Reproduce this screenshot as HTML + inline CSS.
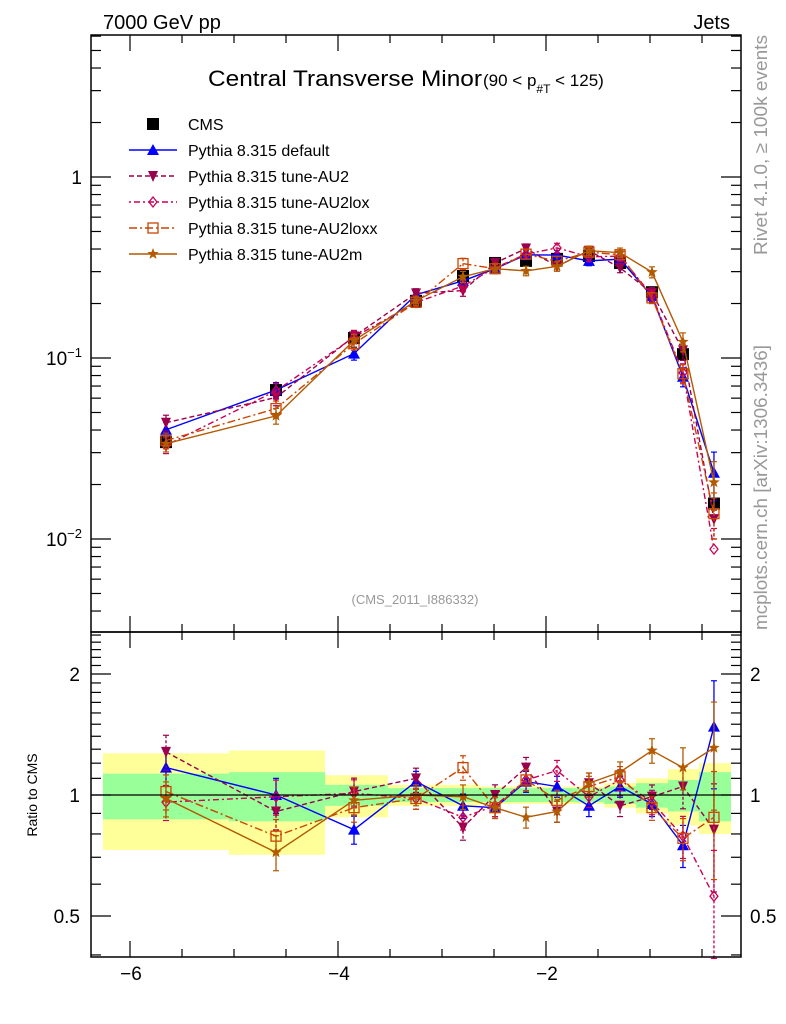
<!DOCTYPE html>
<html><head><meta charset="utf-8"><style>
html,body{margin:0;padding:0;background:#fff}
svg{display:block;font-family:"Liberation Sans",sans-serif}
</style></head><body>
<svg id="chart" width="786" height="1024" viewBox="0 0 786 1024" xmlns="http://www.w3.org/2000/svg">
<rect x="0" y="0" width="786" height="1024" fill="#fff"/>
<g id="bands"></g>
<g id="ticks"></g>
<g id="series"></g>
<line x1="91" y1="795" x2="741" y2="795" stroke="#000" stroke-width="1.2"/>
<rect x="91" y="35" width="650" height="597" fill="none" stroke="#000" stroke-width="1.5"/>
<rect x="91" y="632" width="650" height="325" fill="none" stroke="#000" stroke-width="1.5"/>
<text x="103" y="29" font-size="20">7000 GeV pp</text>
<text x="730" y="29" font-size="20" text-anchor="end">Jets</text>
<text x="208" y="86" font-size="22" textLength="274" lengthAdjust="spacingAndGlyphs">Central Transverse Minor</text>
<text x="483" y="86" font-size="17">(90 &lt; p<tspan font-size="12" dy="7">#T</tspan><tspan dy="-7">  &lt; 125)</tspan></text>
<text x="415" y="604" font-size="13" fill="#999" text-anchor="middle">(CMS_2011_I886332)</text>
<text transform="translate(767,255) rotate(-90)" font-size="18.5" fill="#999" textLength="220" lengthAdjust="spacingAndGlyphs">Rivet 4.1.0, ≥ 100k events</text>
<text transform="translate(767,630) rotate(-90)" font-size="18.5" fill="#999" textLength="285" lengthAdjust="spacingAndGlyphs">mcplots.cern.ch [arXiv:1306.3436]</text>
<text transform="translate(37,795) rotate(-90)" font-size="14" text-anchor="middle">Ratio to CMS</text>
<g id="ylabels" font-size="19">
<text x="82" y="184" text-anchor="end">1</text>
<text x="82" y="365" text-anchor="end">10<tspan font-size="13" dy="-8">−1</tspan></text>
<text x="82" y="546" text-anchor="end">10<tspan font-size="13" dy="-8">−2</tspan></text>
<text x="80" y="681" text-anchor="end">2</text>
<text x="80" y="802" text-anchor="end">1</text>
<text x="80" y="923" text-anchor="end">0.5</text>
<text x="750" y="681">2</text>
<text x="750" y="802">1</text>
<text x="750" y="923">0.5</text>
</g>
<g id="xlabels" font-size="19" text-anchor="middle"></g>
<g id="legend" font-size="16"></g>
</svg>
<script>
const xCenters = [-5.654,-4.596,-3.846,-3.25,-2.798,-2.49,-2.192,-1.894,-1.587,-1.288,-0.981,-0.683,-0.385];
const binEdges = [-6.26,-5.05,-4.125,-3.52,-2.97,-2.635,-2.337,-2.038,-1.74,-1.44,-1.135,-0.827,-0.529,-0.221];
const cmsValues = [0.0343,0.0665,0.129,0.207,0.284,0.335,0.344,0.353,0.366,0.335,0.231,0.105,0.0157];
const cmsStatErr = [0.13,0.14,0.06,0.04,0.04,0.04,0.04,0.04,0.04,0.05,0.07,0.09,0.14];
const cmsTotErr = [0.27,0.29,0.12,0.06,0.06,0.05,0.05,0.05,0.05,0.07,0.1,0.16,0.2];
const ratioDefault = [1.17,1.0,0.82,1.08,0.94,0.93,1.08,1.05,0.94,1.05,0.95,0.75,1.48];
const ratioAU2 = [1.28,0.91,1.02,1.10,0.83,1.0,1.17,0.91,1.07,0.94,0.99,1.05,0.82];
const ratioAU2lox = [0.96,0.99,1.01,0.98,0.88,0.94,1.09,1.15,0.99,1.09,0.96,0.79,0.56];
const ratioAU2loxx = [1.02,0.79,0.93,0.98,1.17,0.93,1.09,0.97,1.05,1.11,0.93,0.78,0.88];
const ratioAU2m = [0.98,0.72,0.97,1.0,0.99,0.93,0.88,0.91,1.07,1.14,1.29,1.17,1.31];
const mcRelErr = [0.1,0.1,0.08,0.06,0.07,0.06,0.06,0.06,0.06,0.06,0.07,0.12,0.3];
const xTicks = [-6,-4,-2];

const NS="http://www.w3.org/2000/svg";
const X = v => 546 + (v + 2) * 104;
const Y = v => 177 - Math.log10(v) * 181;
const R = v => 795 - Math.log2(v) * 121;
function mk(tag, attrs, parent){const e=document.createElementNS(NS,tag);for(const k in attrs)e.setAttribute(k,attrs[k]);parent.appendChild(e);return e;}

const bands=document.getElementById('bands');
for(let i=0;i<cmsValues.length;i++){
  const x0=X(binEdges[i]), x1=X(binEdges[i+1]);
  const y=mk('rect',{x:x0,y:R(1+cmsTotErr[i]),width:x1-x0,height:R(Math.max(0.3,1-cmsTotErr[i]))-R(1+cmsTotErr[i]),fill:'#ffff99'},bands);
  
  
  const g=mk('rect',{x:x0,y:R(1+cmsStatErr[i]),width:x1-x0,height:R(1-cmsStatErr[i])-R(1+cmsStatErr[i]),fill:'#99ff99'},bands);
  
  
}

const ticks=document.getElementById('ticks');
function tk(x1,y1,x2,y2){mk('line',{x1,y1,x2,y2,stroke:'#000','stroke-width':1.2},ticks);}
for(let d=-3;d<=0;d++){for(let m=1;m<=9;m++){const v=m*Math.pow(10,d);const y=Y(v);if(y<36||y>631)continue;const L=m===1?20:10;tk(91,y,91+L,y);tk(741,y,741-L,y);}}
for(let v=0.4;v<=2.55;v+=0.1){const y=R(v);if(y<633||y>956)continue;const maj=[0.5,1,2].some(a=>Math.abs(a-v)<1e-6);const L=maj?20:10;tk(91,y,91+L,y);tk(741,y,741-L,y);}
for(let v=-6.5;v<=-0.1;v+=0.5){const x=X(v);if(x<92||x>740)continue;const maj=Math.abs(v-Math.round(v))<1e-6&&Math.round(v)%2===0;const L=maj?16:8;tk(x,957,x,957-L);tk(x,632,x,632-L);tk(x,35,x,35+L);tk(x,632,x,632+L);}
const xl=document.getElementById('xlabels');
xTicks.forEach(v=>{const t=mk('text',{x:X(v)+1,y:980},xl);t.textContent='−'+Math.abs(v);

});

function marker(p,x,y,kind,color){
  if(kind==='sq')mk('rect',{x:x-6,y:y-6,width:12,height:12,fill:'#000'},p);
  else if(kind==='tri')mk('polygon',{points:`${x},${y-6} ${x-6},${y+5} ${x+6},${y+5}`,fill:color},p);
  else if(kind==='dtri')mk('polygon',{points:`${x},${y+6} ${x-5},${y-5} ${x+5},${y-5}`,fill:color},p);
  else if(kind==='dia')mk('polygon',{points:`${x},${y-5} ${x-4},${y} ${x},${y+5} ${x+4},${y}`,fill:'none',stroke:color,'stroke-width':1.3},p);
  else if(kind==='osq')mk('rect',{x:x-5,y:y-5,width:10,height:10,fill:'none',stroke:color,'stroke-width':1.3},p);
  else if(kind==='star'){let pts=[];for(let k=0;k<10;k++){const r=k%2?2.5:6;const a=-Math.PI/2+k*Math.PI/5;pts.push((x+r*Math.cos(a)).toFixed(1)+','+(y+r*Math.sin(a)).toFixed(1));}mk('polygon',{points:pts.join(' '),fill:color},p);}
}
const seriesDefs=[
 {name:'default',ratio:ratioDefault,color:'#0000ff',dash:'',kind:'tri',label:'Pythia 8.315 default'},
 {name:'tune-au2',ratio:ratioAU2,color:'#99004d',dash:'5,3',kind:'dtri',label:'Pythia 8.315 tune-AU2'},
 {name:'tune-au2lox',ratio:ratioAU2lox,color:'#cc0055',dash:'2,3,6,3',kind:'dia',label:'Pythia 8.315 tune-AU2lox'},
 {name:'tune-au2loxx',ratio:ratioAU2loxx,color:'#cc4400',dash:'8,3,2,3',kind:'osq',label:'Pythia 8.315 tune-AU2loxx'},
 {name:'tune-au2m',ratio:ratioAU2m,color:'#b35900',dash:'',kind:'star',label:'Pythia 8.315 tune-AU2m'}
];
const sg=document.getElementById('series');
const cg=mk('g',{},sg);


cmsValues.forEach((v,i)=>{const x=X(xCenters[i]);mk('line',{x1:x,x2:x,y1:Y(v*(1+cmsTotErr[i]*0.4)),y2:Y(v*(1-cmsTotErr[i]*0.4)),stroke:'#000','stroke-width':1.2},cg);marker(cg,x,Y(v),'sq','#000');});
seriesDefs.forEach(s=>{
  const g=mk('g',{},sg);
  
  
  const mainPts=s.ratio.map((r,i)=>[X(xCenters[i]),Y(cmsValues[i]*r)]);
  const ratPts=s.ratio.map((r,i)=>[X(xCenters[i]),R(r)]);
  [mainPts,ratPts].forEach((pts,pi)=>{
    mk('polyline',{points:pts.map(p=>p.join(',')).join(' '),fill:'none',stroke:s.color,'stroke-width':1.4,'stroke-dasharray':s.dash},g);
    pts.forEach((p,i)=>{
      const e=mcRelErr[i];const val=pi===0?cmsValues[i]*s.ratio[i]:s.ratio[i];const f=pi===0?Y:R;
      const y1=f(val*(1+e)),y2=f(Math.max(val*(1-e),0.01));
      mk('line',{x1:p[0],x2:p[0],y1,y2,stroke:s.color,'stroke-width':1.3,'stroke-dasharray':s.dash?'3,2':''},g);
      mk('line',{x1:p[0]-3,x2:p[0]+3,y1,y2:y1,stroke:s.color,'stroke-width':1.2},g);
      mk('line',{x1:p[0]-3,x2:p[0]+3,y1:y2,y2:y2,stroke:s.color,'stroke-width':1.2},g);
      marker(g,p[0],p[1],s.kind,s.color);
    });
  });
});
const lg=document.getElementById('legend');
const e0=mk('g',{},lg);


marker(e0,153,124,'sq','#000');
const t0=mk('text',{x:188,y:130},e0);t0.textContent='CMS';
seriesDefs.forEach((s,i)=>{
  const y=150+i*26;
  const e=mk('g',{},lg);
  
  
  mk('line',{x1:129,x2:177,y1:y,y2:y,stroke:s.color,'stroke-width':1.4,'stroke-dasharray':s.dash},e);
  marker(e,153,y,s.kind,s.color);
  const t=mk('text',{x:188,y:y+6},e);t.textContent=s.label;
});
</script>
</body></html>
